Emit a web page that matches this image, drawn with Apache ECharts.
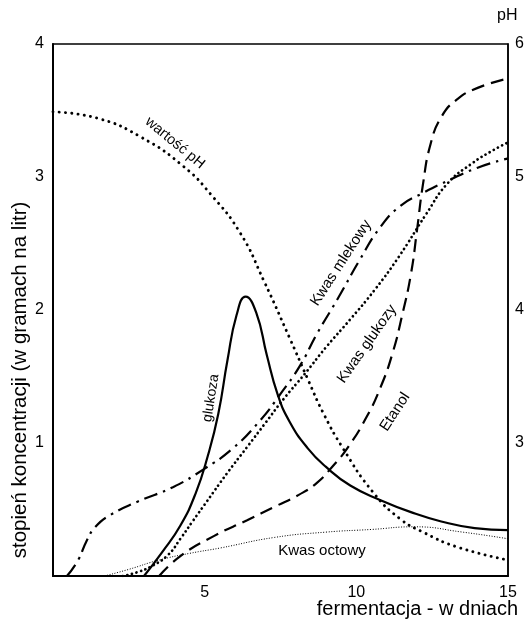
<!DOCTYPE html>
<html>
<head>
<meta charset="utf-8">
<script src="https://cdn.jsdelivr.net/npm/echarts@6/dist/echarts.min.js"></script>
<style>html,body{margin:0;padding:0;background:#fff}#c{width:529px;height:621px}</style>
</head>
<body>
<div id="c"></div>
<script>
// x: fermentation day, y: concentration (g/l) on the left axis, pH on the right axis
var xTicks = [5, 10, 15];
var leftTicks = [1, 2, 3, 4];
var rightTicks = [3, 4, 5, 6];

var glukoza = [[3.0,0],[3.6,0.18],[4.2,0.38],[4.7,0.62],[5.1,0.9],[5.45,1.22],[5.75,1.62],[6.05,1.96],[6.35,2.1],[6.7,1.98],[7.05,1.66],[7.4,1.37],[7.8,1.16],[8.4,0.96],[9.0,0.82],[9.8,0.68],[10.8,0.57],[11.8,0.48],[12.8,0.41],[13.9,0.36],[15,0.345]];
var etanol = [[3.5,0],[4.2,0.15],[5.3,0.3],[6.4,0.42],[7.3,0.52],[8.1,0.61],[8.7,0.7],[9.2,0.82],[9.7,0.96],[10.3,1.18],[10.8,1.42],[11.2,1.68],[11.5,1.95],[11.8,2.27],[12.0,2.6],[12.2,2.95],[12.45,3.25],[12.8,3.45],[13.3,3.58],[14.0,3.67],[15,3.74]];
var kwasMlekowy = [[0.46,0],[0.83,0.12],[1.1,0.26],[1.4,0.37],[1.9,0.46],[2.8,0.56],[3.97,0.67],[4.95,0.8],[5.93,0.96],[6.83,1.17],[7.5,1.37],[8.14,1.58],[8.7,1.82],[9.4,2.09],[10.12,2.38],[10.78,2.62],[11.44,2.78],[12.2,2.88],[13.0,2.97],[14.0,3.07],[15,3.14]];
var kwasGlukozy = [[2.3,0],[2.8,0.03],[3.3,0.08],[3.8,0.16],[4.2,0.28],[4.6,0.41],[5.07,0.56],[5.73,0.77],[6.4,0.97],[7.0,1.15],[7.6,1.33],[8.3,1.52],[9.0,1.72],[9.8,1.93],[10.6,2.15],[11.4,2.4],[12.3,2.72],[13.0,2.95],[13.8,3.1],[14.5,3.2],[15,3.26]];
var kwasOctowy = [[1.7,0],[2.5,0.05],[3.5,0.12],[4.5,0.17],[5.5,0.21],[7.3,0.29],[9.0,0.33],[10.5,0.35],[11.9,0.37],[13.5,0.33],[15,0.28]];
var wartoscPH = [[0,5.49],[1.5,5.44],[2.9,5.3],[4.3,5.08],[5.2,4.87],[6.17,4.58],[6.95,4.22],[7.8,3.79],[8.4,3.48],[8.9,3.23],[9.56,2.96],[10.55,2.63],[11.44,2.43],[12.2,2.33],[13.3,2.22],[15,2.12]];

var FONT = '"Liberation Sans", Arial, sans-serif';
var chart = echarts.init(document.getElementById('c'));
var grid = {left: 53, right: 21, top: 44, bottom: 45};

function lineSeries(name, data, axis, style) {
  return {
    name: name, type: 'line', data: data, yAxisIndex: axis,
    smooth: 0.5, showSymbol: false, symbol: 'none',
    lineStyle: style, silent: true, animation: false
  };
}

chart.setOption({
  animation: false,
  backgroundColor: '#fff',
  grid: Object.assign({show: true, borderColor: '#000', borderWidth: 1.5}, grid),
  xAxis: {
    type: 'value', min: 0, max: 15, interval: 5,
    axisLine: {show: true, onZero: false, lineStyle: {color: '#000', width: 2}},
    axisTick: {show: false}, splitLine: {show: false},
    axisLabel: {color: '#000', fontSize: 16, fontFamily: FONT, margin: 9,
      formatter: function (v) { return xTicks.indexOf(v) >= 0 ? String(v) : ''; }}
  },
  yAxis: [{
    type: 'value', min: 0, max: 4, interval: 1,
    axisLine: {show: true, lineStyle: {color: '#000', width: 2}},
    axisTick: {show: false}, splitLine: {show: false},
    axisLabel: {color: '#000', fontSize: 16, fontFamily: FONT, margin: 9,
      formatter: function (v) { return leftTicks.indexOf(v) >= 0 ? String(v) : ''; }}
  }, {
    type: 'value', min: 2, max: 6, interval: 1, position: 'right',
    axisLine: {show: true, lineStyle: {color: '#000', width: 1.5}},
    axisTick: {show: false}, splitLine: {show: false},
    axisLabel: {color: '#000', fontSize: 16, fontFamily: FONT, margin: 7,
      formatter: function (v) { return rightTicks.indexOf(v) >= 0 ? String(v) : ''; }}
  }],
  series: [
    lineSeries('glukoza', glukoza, 0, {color: '#000', width: 2.2}),
    lineSeries('Etanol', etanol, 0, {color: '#000', width: 2.2, type: [13, 7]}),
    lineSeries('Kwas mlekowy', kwasMlekowy, 0, {color: '#000', width: 2.2, type: [14, 6, 2.5, 6]}),
    lineSeries('Kwas glukozy', kwasGlukozy, 0, {color: '#000', width: 2.7, type: [0.1, 4.6], cap: 'round'}),
    lineSeries('Kwas octowy', kwasOctowy, 0, {color: '#000', width: 1, type: [1, 1.6]}),
    lineSeries('wartość pH', wartoscPH, 1, {color: '#000', width: 2.9, type: [0.1, 6.2], cap: 'round'})
  ],
  graphic: [
    {type: 'text', left: 497, top: 8, style: {text: 'pH', fontSize: 16, fontFamily: FONT, fill: '#000'}},
    {type: 'text', x: 518, y: 609, style: {text: 'fermentacja - w dniach', fontSize: 20, fontFamily: FONT, fill: '#000', align: 'right', verticalAlign: 'middle'}},
    {type: 'text', x: 20, y: 380, rotation: Math.PI / 2, style: {text: 'stopień koncentracji (w gramach na litr)', fontSize: 20.5, fontFamily: FONT, fill: '#000', align: 'center', verticalAlign: 'middle'}},
    {type: 'text', x: 175, y: 143, rotation: -0.69, style: {text: 'wartość pH', fontSize: 14.5, fontFamily: FONT, fill: '#000', align: 'center', verticalAlign: 'middle'}},
    {type: 'text', x: 211, y: 398, rotation: 81 * Math.PI / 180, style: {text: 'glukoza', fontSize: 14, fontFamily: FONT, fill: '#000', align: 'center', verticalAlign: 'middle'}},
    {type: 'text', x: 341, y: 263, rotation: 57 * Math.PI / 180, style: {text: 'Kwas mlekowy', fontSize: 15, fontFamily: FONT, fill: '#000', align: 'center', verticalAlign: 'middle'}},
    {type: 'text', x: 367, y: 344, rotation: 55 * Math.PI / 180, style: {text: 'Kwas glukozy', fontSize: 15, fontFamily: FONT, fill: '#000', align: 'center', verticalAlign: 'middle'}},
    {type: 'text', x: 395, y: 412, rotation: 57 * Math.PI / 180, style: {text: 'Etanol', fontSize: 15, fontFamily: FONT, fill: '#000', align: 'center', verticalAlign: 'middle'}},
    {type: 'text', x: 322, y: 551, style: {text: 'Kwas octowy', fontSize: 15, fontFamily: FONT, fill: '#000', align: 'center', verticalAlign: 'middle'}}
  ]
});
</script>
</body>
</html>
